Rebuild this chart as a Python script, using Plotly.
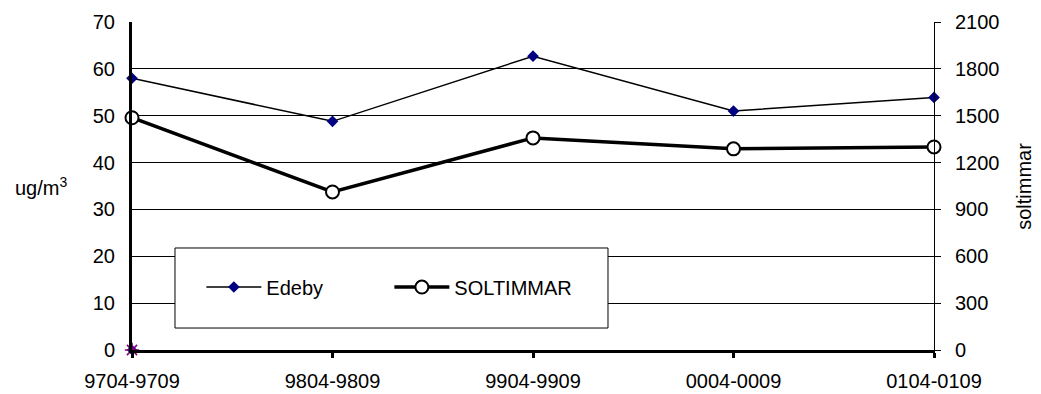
import plotly.graph_objects as go

categories = ["9704-9709", "9804-9809", "9904-9909", "0004-0009", "0104-0109"]
edeby = [58.0, 48.8, 62.7, 51.0, 53.9]
soltimmar = [1487, 1012, 1358, 1288, 1300]
extra_point_x = [0]
extra_point_y = [0]
left_ticks = [0, 10, 20, 30, 40, 50, 60, 70]
right_ticks = [0, 300, 600, 900, 1200, 1500, 1800, 2100]

xs = list(range(len(categories)))
FONT = "Liberation Sans, Arial, sans-serif"
FS = 20

fig = go.Figure()

fig.add_trace(go.Scatter(
    x=xs, y=edeby, name="Edeby", mode="lines+markers",
    line=dict(color="black", width=1.5),
    marker=dict(symbol="diamond", size=9, color="#000080"),
    cliponaxis=False,
))
fig.add_trace(go.Scatter(
    x=xs, y=soltimmar, name="SOLTIMMAR", mode="lines+markers", yaxis="y2",
    line=dict(color="black", width=3.5),
    marker=dict(symbol="circle", size=13, color="white", line=dict(color="black", width=2)),
    cliponaxis=False,
))
fig.add_trace(go.Scatter(
    x=extra_point_x, y=extra_point_y, mode="markers", showlegend=False,
    marker=dict(symbol="diamond", size=8, color="#000080"), cliponaxis=False,
))
fig.add_trace(go.Scatter(
    x=extra_point_x, y=extra_point_y, mode="markers", showlegend=False,
    marker=dict(symbol="asterisk-open", size=12, color="#800080",
                line=dict(color="#800080", width=1.5)), cliponaxis=False,
))

fig.update_layout(
    template="none",
    width=1033, height=386,
    margin=dict(l=124, r=107, t=14, b=44, autoexpand=False),
    paper_bgcolor="white", plot_bgcolor="white",
    font=dict(family=FONT, size=FS, color="black"),
    xaxis=dict(
        range=[0, len(categories) - 1], tickvals=xs, ticktext=categories,
        showgrid=False, zeroline=False, automargin=False,
        showline=True, linecolor="black", linewidth=3,
        ticks="outside", ticklen=5, tickwidth=3, tickcolor="black",
        tickfont=dict(size=FS), ticklabelstandoff=6,
    ),
    yaxis=dict(
        range=[0, 70], tickvals=left_ticks, automargin=False,
        showgrid=True, gridcolor="black", gridwidth=1,
        zeroline=False, showline=True, linecolor="black", linewidth=3,
        ticks="", tickfont=dict(size=FS), ticklabelstandoff=10,
    ),
    yaxis2=dict(
        range=[0, 2100], tickvals=right_ticks, overlaying="y", side="right",
        showgrid=False, zeroline=False, showline=True, linecolor="black", linewidth=1,
        automargin=False,
        ticks="outside", ticklen=6, tickcolor="black", tickwidth=1,
        tickfont=dict(size=FS), ticklabelstandoff=10,
    ),
    showlegend=True,
    legend=dict(
        orientation="h", x=0.0865, y=0.192, xanchor="left", yanchor="middle",
        bgcolor="rgba(0,0,0,0)", borderwidth=0, itemwidth=55,
        font=dict(size=FS), entrywidth=118, entrywidthmode="pixels",
    ),
    shapes=[dict(
        type="rect", xref="paper", yref="paper",
        x0=0.0536, x1=0.5935, y0=0.067, y1=0.311,
        line=dict(color="black", width=1), fillcolor="white", layer="above",
    )],
    annotations=[
        dict(text="ug/m<sup>3</sup>", xref="paper", yref="paper",
             x=-0.113, y=0.50, xanchor="center", yanchor="middle",
             showarrow=False, font=dict(size=FS)),
        dict(text="soltimmar", xref="paper", yref="paper",
             x=1.112, y=0.5, xanchor="center", yanchor="middle",
             textangle=-90, showarrow=False, font=dict(size=FS)),
    ],
)

fig.write_html("out.html")
